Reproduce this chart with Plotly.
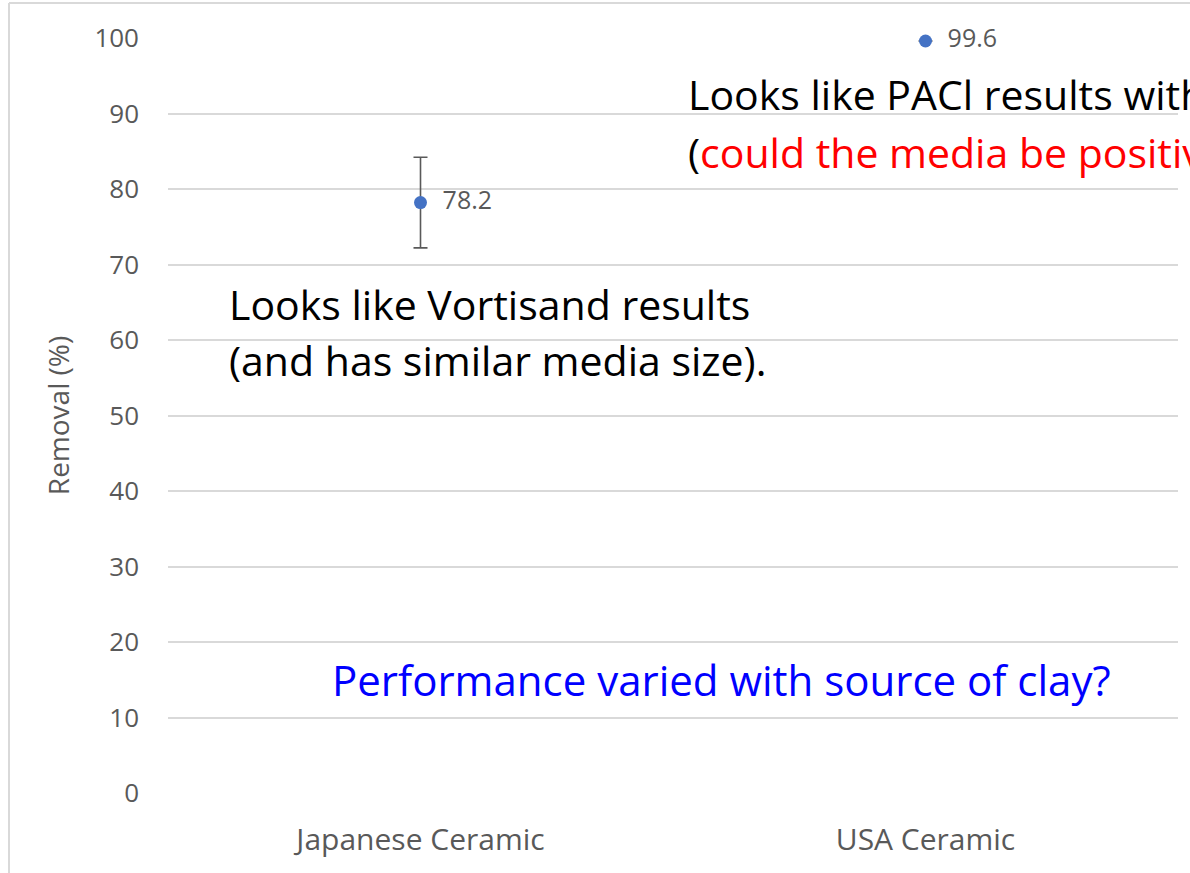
import plotly.graph_objects as go

# Removal efficiency by ceramic media source
categories = ["Japanese Ceramic", "USA Ceramic"]
removal = [78.2, 99.6]
removal_err = [6.0, 0.0]
y_ticks = list(range(0, 101, 10))

GRAY = "#595959"
GRID = "#d9d9d9"
BLUE = "#4472C4"
FONT = "'Open Sans', 'Noto Sans', sans-serif"

fig = go.Figure()
fig.add_trace(go.Scatter(
    x=categories,
    y=removal,
    mode="markers+text",
    marker=dict(color=BLUE, size=13),
    error_y=dict(type="data", array=removal_err, visible=True,
                 color=GRAY, thickness=1.6, width=7),
    text=["\u00a0\u00a0" + f"{v:.1f}" for v in removal],
    textposition="middle right",
    textfont=dict(family=FONT, size=25, color=GRAY),
    cliponaxis=False,
    showlegend=False,
    hoverinfo="skip",
))

fig.update_layout(
    width=1190,
    height=873,
    margin=dict(l=168, r=12, t=38, b=80),
    paper_bgcolor="white",
    plot_bgcolor="white",
    font=dict(family=FONT, color=GRAY),
    xaxis=dict(
        type="category",
        range=[-0.5, 1.5],
        showgrid=False,
        zeroline=False,
        showline=False,
        ticks="",
        tickfont=dict(family=FONT, size=30, color=GRAY),
        ticklabelstandoff=26,
    ),
    yaxis=dict(
        range=[0, 100],
        tickvals=y_ticks,
        showgrid=True,
        gridcolor=GRID,
        gridwidth=1.5,
        zeroline=False,
        showline=False,
        ticks="",
        ticklabelstandoff=28,
        tickfont=dict(family=FONT, size=26, color=GRAY),
        title=dict(text="Removal (%)", font=dict(family=FONT, size=28, color=GRAY),
                   standoff=16),
    ),
)

# Outer frame (left and top edges)
fig.add_shape(type="line", xref="paper", yref="paper",
              x0=(9 - 168) / 1010, x1=(9 - 168) / 1010, y0=-80 / 755, y1=1 + 35 / 755,
              line=dict(color=GRID, width=2))
fig.add_shape(type="line", xref="paper", yref="paper",
              x0=(9 - 168) / 1010, x1=1.2, y0=1 + 35 / 755, y1=1 + 35 / 755,
              line=dict(color=GRID, width=2))

BIG = 41
fig.add_annotation(
    xref="paper", yref="y", x=(686 - 168) / 1010, y=92.6, xanchor="left", yanchor="middle",
    text="Looks like PACl results with", showarrow=False,
    font=dict(family=FONT, size=BIG, color="black"),
)
fig.add_annotation(
    xref="paper", yref="y", x=(686 - 168) / 1010, y=84.9, xanchor="left", yanchor="middle",
    text="(<span style='color:#ff0000'>could the media be positively charged?)</span>",
    showarrow=False,
    font=dict(family=FONT, size=BIG, color="black"),
)
fig.add_annotation(
    xref="paper", yref="y", x=(227 - 168) / 1010, y=64.8, xanchor="left", yanchor="middle",
    text="Looks like Vortisand results", showarrow=False,
    font=dict(family=FONT, size=BIG, color="black"),
)
fig.add_annotation(
    xref="paper", yref="y", x=(227 - 168) / 1010, y=57.4, xanchor="left", yanchor="middle",
    text="(and has similar media size).", showarrow=False,
    font=dict(family=FONT, size=BIG, color="black"),
)
fig.add_annotation(
    xref="paper", yref="y", x=(330 - 168) / 1010, y=15.1, xanchor="left", yanchor="middle",
    text="Performance varied with source of clay?", showarrow=False,
    font=dict(family=FONT, size=BIG + 1, color="#0000ff"),
)

fig.write_html("out.html")
